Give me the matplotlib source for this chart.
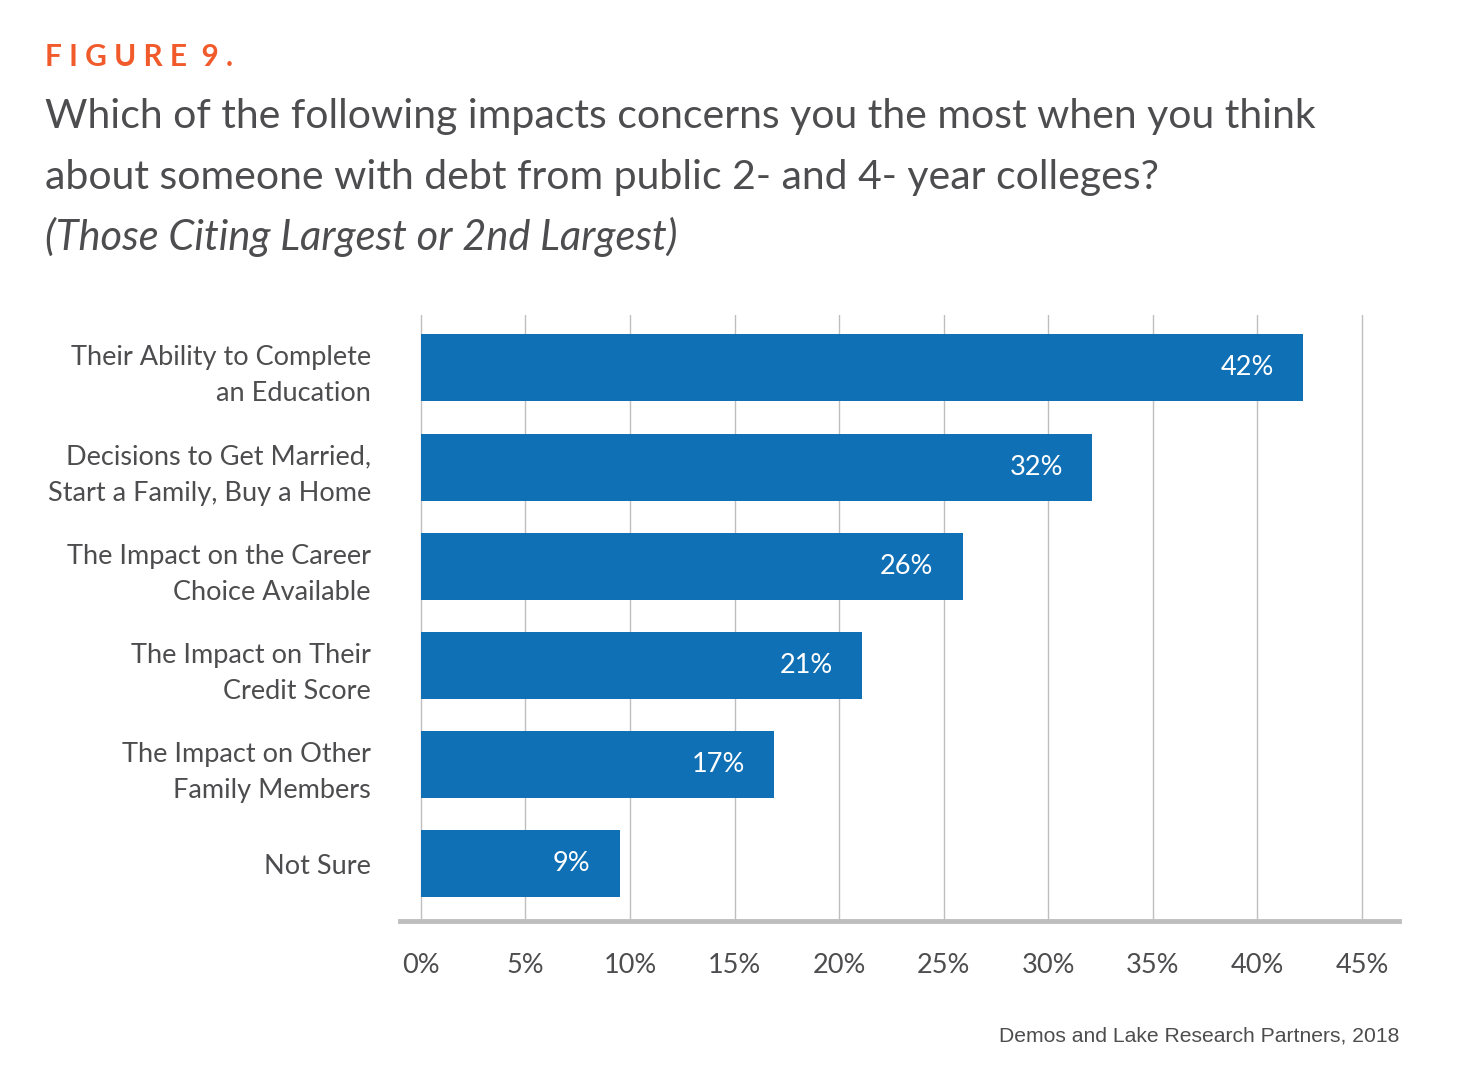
import numpy as np
import matplotlib
matplotlib.use('Agg')
from matplotlib import pyplot as plt

categories = ['Their Ability to Complete\nan Education',
              'Decisions to Get Married,\nStart a Family, Buy a Home',
              'The Impact on the Career\nChoice Available',
              'The Impact on Their\nCredit Score',
              'The Impact on Other\nFamily Members',
              'Not Sure']
values = [42.2, 32.1, 25.9, 21.1, 16.9, 9.5]
value_labels = ['42%', '32%', '26%', '21%', '17%', '9%']
x_ticks = [0, 5, 10, 15, 20, 25, 30, 35, 40, 45]
x_tick_labels = ['0%', '5%', '10%', '15%', '20%', '25%', '30%', '35%', '40%', '45%']

BLUE = '#1070B5'
ORANGE = '#F15A2B'
GRAY = '#4D4D4F'
GRID = '#BEBEBE'

plt.rcParams['font.family'] = ['Lato', 'DejaVu Sans']

fig = plt.figure(figsize=(14.58, 10.92), dpi=100)
ax = fig.add_axes([400 / 1458, 1 - 921 / 1092, (1399 - 400) / 1458, (921 - 315) / 1092])

y = np.arange(len(categories))
ax.barh(y, values, height=0.675, color=BLUE, zorder=3)

# value labels inside the bar ends
for yi, v, lab in zip(y, values, value_labels):
    ax.text(v - 1.4, yi, lab, color='white', ha='right', va='center',
            fontsize=19.5, zorder=4)

ax.set_xlim(-1.0, 46.77)
ax.set_ylim(5.576, -0.534)

ax.set_xticks(x_ticks)
ax.set_xticklabels(x_tick_labels, fontsize=19.5, color=GRAY)
ax.set_yticks(y)
ax.set_yticklabels(categories, fontsize=19.5, color=GRAY, linespacing=1.55)
ax.tick_params(axis='both', length=0)
ax.tick_params(axis='x', pad=23)
ax.tick_params(axis='y', pad=21)

ax.grid(axis='x', color=GRID, linewidth=1.0, zorder=0)
for s in ['top', 'right', 'left']:
    ax.spines[s].set_visible(False)
ax.spines['bottom'].set_color(GRID)
ax.spines['bottom'].set_linewidth(3.5)

fig.text(45 / 1458, 1 - 66 / 1092, 'F I G U R E  9 .', color=ORANGE, fontsize=21.5,
         fontweight='bold', ha='left', va='baseline')
fig.text(45 / 1458, 1 - 128 / 1092, 'Which of the following impacts concerns you the most when you think',
         color=GRAY, fontsize=29.5, ha='left', va='baseline')
fig.text(45 / 1458, 1 - 189 / 1092, 'about someone with debt from public 2- and 4- year colleges?',
         color=GRAY, fontsize=29.5, ha='left', va='baseline')
fig.text(45 / 1458, 1 - 250 / 1092, '(Those Citing Largest or 2nd Largest)',
         color=GRAY, fontsize=30, style='italic',
         ha='left', va='baseline')

fig.text(1399 / 1458, 1 - 1041 / 1092, 'Demos and Lake Research Partners, 2018',
         color=GRAY, fontsize=15.2, family=['Liberation Sans', 'DejaVu Sans'],
         ha='right', va='baseline')

fig.savefig('out.png', dpi=100)
